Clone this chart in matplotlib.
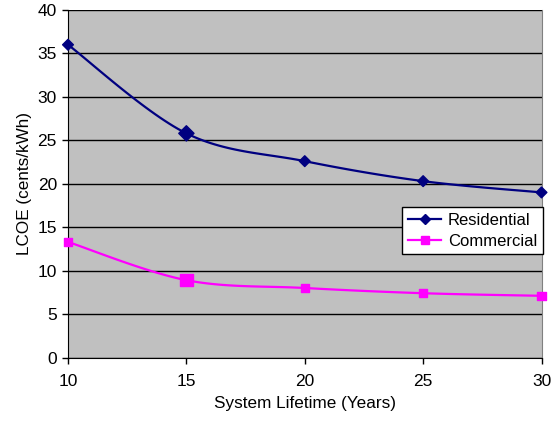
import matplotlib.pyplot as plt
import numpy as np

plt.rcParams['font.family'] = ['Liberation Sans', 'DejaVu Sans']

years = [10, 15, 20, 25, 30]
residential = [36.0, 25.8, 22.6, 20.3, 19.0]
commercial = [13.3, 8.9, 8.0, 7.4, 7.1]
# the 15 year markers are drawn bigger in the original
res_sizes = [30, 60, 30, 30, 30]
com_sizes = [36, 80, 36, 36, 36]


def smooth(x, y, sx=1.0, sy=1.0, n=30):
    # excel style bezier smoothing through the points
    p = np.column_stack([np.array(x) / sx, np.array(y) / sy])
    out = [p[0]]
    for i in range(len(p) - 1):
        p0 = p[i - 1] if i > 0 else p[i]
        p1 = p[i]
        p2 = p[i + 1]
        p3 = p[i + 2] if i + 2 < len(p) else p[i + 1]
        c1 = p1 + (p2 - p0) / 6.0
        c2 = p2 - (p3 - p1) / 6.0
        t = np.linspace(0, 1, n)[1:, None]
        seg = (1 - t) ** 3 * p1 + 3 * (1 - t) ** 2 * t * c1 + 3 * (1 - t) * t ** 2 * c2 + t ** 3 * p2
        out.extend(seg)
    out = np.array(out)
    return out[:, 0] * sx, out[:, 1] * sy


fig = plt.figure(figsize=(5.53, 4.22), dpi=100)
ax = fig.add_axes([68 / 553, (422 - 357.5) / 422, (541.5 - 68) / 553, (357.5 - 10) / 422])
ax.set_facecolor('#c0c0c0')

# scale so that smoothing works in screen proportions
sx = 20 / 473.5
sy = 40 / 347.5

xs, ys = smooth(years, residential, sx, sy)
ax.plot(xs, ys, color='#000080', lw=1.6, zorder=3)
ax.scatter(years, residential, s=res_sizes, marker='D', color='#000080', zorder=4, clip_on=False)
ax.plot([], [], color='#000080', lw=1.6, marker='D', ms=5, label='Residential')

xs, ys = smooth(years, commercial, sx, sy)
ax.plot(xs, ys, color='#ff00ff', lw=1.6, zorder=3)
ax.scatter(years, commercial, s=com_sizes, marker='s', color='#ff00ff', zorder=4, clip_on=False)
ax.plot([], [], color='#ff00ff', lw=1.6, marker='s', ms=6, label='Commercial')

ax.set_xlim(10, 30)
ax.set_ylim(0, 40)
ax.set_xticks([10, 15, 20, 25, 30])
ax.set_yticks(range(0, 41, 5))
ax.yaxis.grid(True, color='black', lw=1)
ax.set_axisbelow(True)
ax.tick_params(direction='out', length=4, width=1, labelsize=12.5, colors='black')
ax.tick_params(axis='x', pad=8)
ax.tick_params(axis='y', pad=4)

ax.spines['top'].set_visible(False)
ax.spines['right'].set_color('#808080')
ax.spines['left'].set_color('black')
ax.spines['bottom'].set_color('black')

ax.set_xlabel('System Lifetime (Years)', fontsize=12.3, labelpad=5)
ax.set_ylabel('LCOE (cents/kWh)', fontsize=12.3, labelpad=4)

leg = ax.legend(loc='upper left', bbox_to_anchor=((402 - 68) / 473.5, (357.5 - 207) / 347.5),
                fontsize=12, frameon=True, fancybox=False, framealpha=1,
                edgecolor='black', borderpad=0.35, handlelength=2.0, handletextpad=0.4,
                labelspacing=0.35, borderaxespad=0)
leg.get_frame().set_linewidth(1)

fig.savefig('out.png', dpi=100)
